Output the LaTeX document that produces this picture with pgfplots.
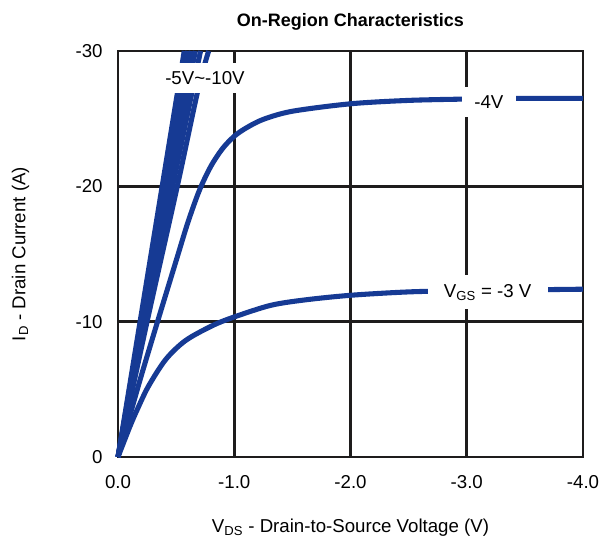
\documentclass[border=0pt]{standalone}
\usepackage{pgfplots}
\pgfplotsset{compat=1.18}
\usepackage{fontspec}
\setmainfont{Liberation Sans}
\definecolor{curve}{RGB}{22,58,148}
\definecolor{gridc}{RGB}{30,28,28}
\begin{document}
\begin{tikzpicture}
\begin{axis}[
  at={(0,0)}, anchor=south west,
  scale only axis,
  width=348.75pt, height=304.5pt,
  x dir=reverse, y dir=reverse,
  xmin=-4, xmax=0, ymin=-30, ymax=0,
  xtick={0,-1,-2,-3,-4},
  xticklabels={0.0,-1.0,-2.0,-3.0,-4.0},
  ytick={0,-10,-20,-30},
  yticklabels={0,-10,-20,-30},
  major tick length=0pt,
  grid=major,
  grid style={gridc, line width=1.9pt},
  axis line style={gridc, line width=1.9pt},
  ticklabel style={font=\fontsize{14}{17}\selectfont},
  xticklabel style={yshift=-10pt},
  yticklabel style={xshift=-8pt},
  xlabel={V\textsubscript{DS} - Drain-to-Source Voltage (V)},
  ylabel={I\textsubscript{D} - Drain Current (A)},
  label style={font=\fontsize{14}{17}\selectfont},
  xlabel shift=16pt,
  ylabel shift=28pt,
  title={On-Region Characteristics},
  title style={font=\fontsize{13.5}{16}\selectfont\bfseries, yshift=6pt},
  clip=false,
  every axis plot/.append style={curve, line width=3.8pt, line join=round},
]
% -10V ... -5V bundle
\addplot[smooth] coordinates {(0,0) (-0.19,-10) (-0.38,-20) (-0.57,-30)};
\addplot[smooth] coordinates {(0,0) (-0.20,-10) (-0.40,-20) (-0.60,-30)};
\addplot[smooth] coordinates {(0,0) (-0.21,-10) (-0.42,-20) (-0.63,-30)};
\addplot[smooth] coordinates {(0,0) (-0.22,-10) (-0.44,-20) (-0.665,-30)};
\addplot[smooth] coordinates {(0,0) (-0.235,-10) (-0.47,-20) (-0.71,-30)};
\addplot[smooth] coordinates {(0,0) (-0.25,-10) (-0.51,-20) (-0.69,-27.2) (-0.78,-30)};
% -4V
\addplot[smooth] coordinates {(0,0) (-0.1,-3.0) (-0.2,-6.0) (-0.34,-10.0) (-0.5,-14.5) (-0.6,-17.3) (-0.7,-19.7) (-0.8,-21.5) (-0.9,-22.8) (-1.0,-23.7) (-1.1,-24.3) (-1.25,-24.95) (-1.5,-25.55) (-2.0,-26.1) (-2.5,-26.35) (-3.0,-26.45) (-3.5,-26.5) (-4.0,-26.5)};
% -3V
\addplot[smooth] coordinates {(0,0) (-0.1,-2.2) (-0.16,-3.4) (-0.26,-5.2) (-0.41,-7.2) (-0.58,-8.6) (-0.81,-9.7) (-1.0,-10.35) (-1.31,-11.2) (-1.6,-11.6) (-2.0,-11.95) (-2.5,-12.2) (-3.0,-12.3) (-3.5,-12.35) (-4.0,-12.4)};
\node[fill=white, inner sep=0pt, minimum width=41pt, minimum height=22.5pt, font=\fontsize{14}{17}\selectfont] at (axis cs:-3.19,-26.2) {-4V};
\node[fill=white, inner sep=0pt, minimum width=90pt, minimum height=25.5pt, font=\fontsize{14}{17}\selectfont] at (axis cs:-3.18,-12.18) {V\textsubscript{GS} = -3 V};
\node[fill=white, inner sep=0pt, minimum width=70.5pt, minimum height=22.5pt, font=\fontsize{14}{17}\selectfont] at (axis cs:-0.748,-28.0) {-5V\textasciitilde-10V};
\end{axis}
\pgfresetboundingbox
\path[use as bounding box] ([shift={(-88.5pt,-62.25pt)}]current axis.south west) rectangle ([shift={(368.25pt,342.75pt)}]current axis.south west);
\end{tikzpicture}
\end{document}
